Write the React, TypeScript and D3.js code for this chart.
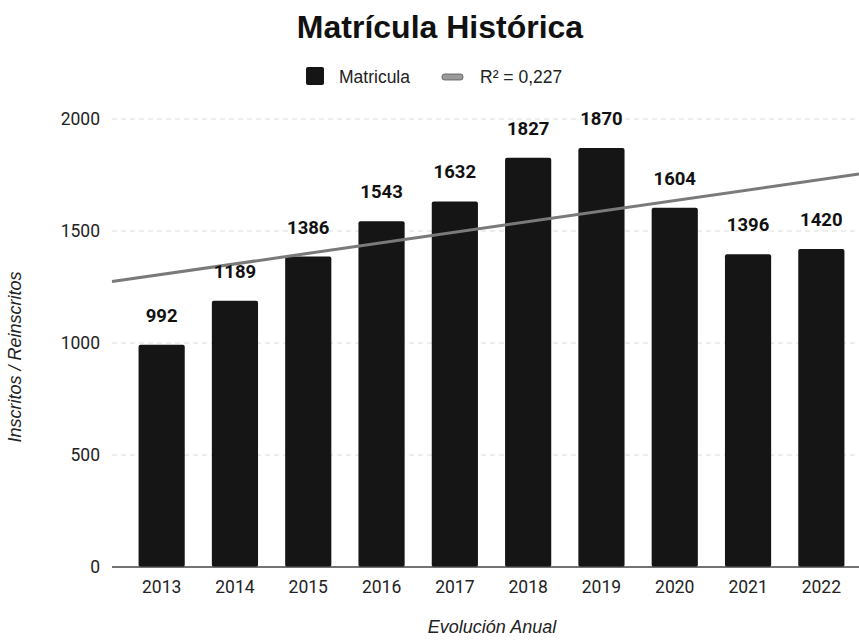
import React from "react";
import * as d3 from "d3";

const years = ["2013", "2014", "2015", "2016", "2017", "2018", "2019", "2020", "2021", "2022"];
const matricula = [992, 1189, 1386, 1543, 1632, 1827, 1870, 1604, 1396, 1420];
const yTicks = [0, 500, 1000, 1500, 2000];
// trend line values read at the first and last category centers
const trendAtFirst = 1306;
const trendAtLast = 1730;
const legendLabels = ["Matricula", "R² = 0,227"];

const W = 859;
const H = 644;
const plotLeft = 112;
const plotRight = 859;

export default function App() {
  const x = d3.scaleBand<string>().domain(years).range([125, 858]).paddingInner(0.37).paddingOuter(0.185);
  const y = d3.scaleLinear().domain([0, 2000]).range([567, 119]);
  const cx = (yr: string) => (x(yr) ?? 0) + x.bandwidth() / 2;
  const x0 = cx(years[0]);
  const x1 = cx(years[years.length - 1]);
  const trend = d3.scaleLinear().domain([x0, x1]).range([trendAtFirst, trendAtLast]);
  const sans = "Roboto, 'Liberation Sans', Arial, sans-serif";
  const arial = "'Liberation Sans', Arial, sans-serif";

  return (
    <svg width={W} height={H} style={{ position: "absolute", left: 0, top: 0, background: "#fff" }}>
      <text x={440} y={38} textAnchor="middle" fontFamily={arial} fontWeight="bold" fontSize={32} fill="#111">
        Matrícula Histórica
      </text>
      {/* legend */}
      <rect x={306} y={67} width={18} height={18} rx={2} fill="#151515" />
      <text x={339} y={83} fontFamily={arial} fontSize={17.5} fill="#222">{legendLabels[0]}</text>
      <rect x={442} y={74} width={21} height={6} rx={2.5} fill="#9a9a9a" stroke="#555" strokeWidth={0.8} />
      <text x={480} y={83} fontFamily={arial} fontSize={17.5} fill="#222">{legendLabels[1]}</text>

      {/* gridlines */}
      {yTicks.filter((t) => t > 0).map((t) => (
        <line key={t} x1={plotLeft} x2={plotRight} y1={y(t)} y2={y(t)} stroke="#dcdcdc" strokeWidth={1} strokeDasharray="5,4" />
      ))}
      {yTicks.map((t) => (
        <text key={t} x={100} y={y(t) + 6} textAnchor="end" fontFamily={sans} fontSize={17.5} fill="#222">{t}</text>
      ))}

      {/* bars */}
      {years.map((yr, i) => (
        <rect key={yr} x={x(yr)} y={y(matricula[i])} width={x.bandwidth()} height={y(0) - y(matricula[i])} rx={2} fill="#151515" />
      ))}

      {/* baseline */}
      <line x1={plotLeft} x2={plotRight} y1={y(0)} y2={y(0)} stroke="#444" strokeWidth={1.5} />

      {/* trend line */}
      <line x1={plotLeft} x2={plotRight} y1={y(trend(plotLeft))} y2={y(trend(plotRight))} stroke="#7a7a7a" strokeWidth={3} />

      {/* value labels */}
      {years.map((yr, i) => (
        <text key={yr} x={cx(yr)} y={y(matricula[i]) - 23} textAnchor="middle" fontFamily={sans} fontWeight="bold" fontSize={18.5} fill="#111">
          {matricula[i]}
        </text>
      ))}

      {/* x tick labels */}
      {years.map((yr) => (
        <text key={yr} x={cx(yr)} y={593} textAnchor="middle" fontFamily={sans} fontSize={17.5} fill="#222">{yr}</text>
      ))}

      <text x={492} y={633} textAnchor="middle" fontFamily={arial} fontStyle="italic" fontSize={18} fill="#222">Evolución Anual</text>
      <text transform="translate(21,357) rotate(-90)" textAnchor="middle" fontFamily={arial} fontStyle="italic" fontSize={18} fill="#222">
        Inscritos / Reinscritos
      </text>
    </svg>
  );
}
